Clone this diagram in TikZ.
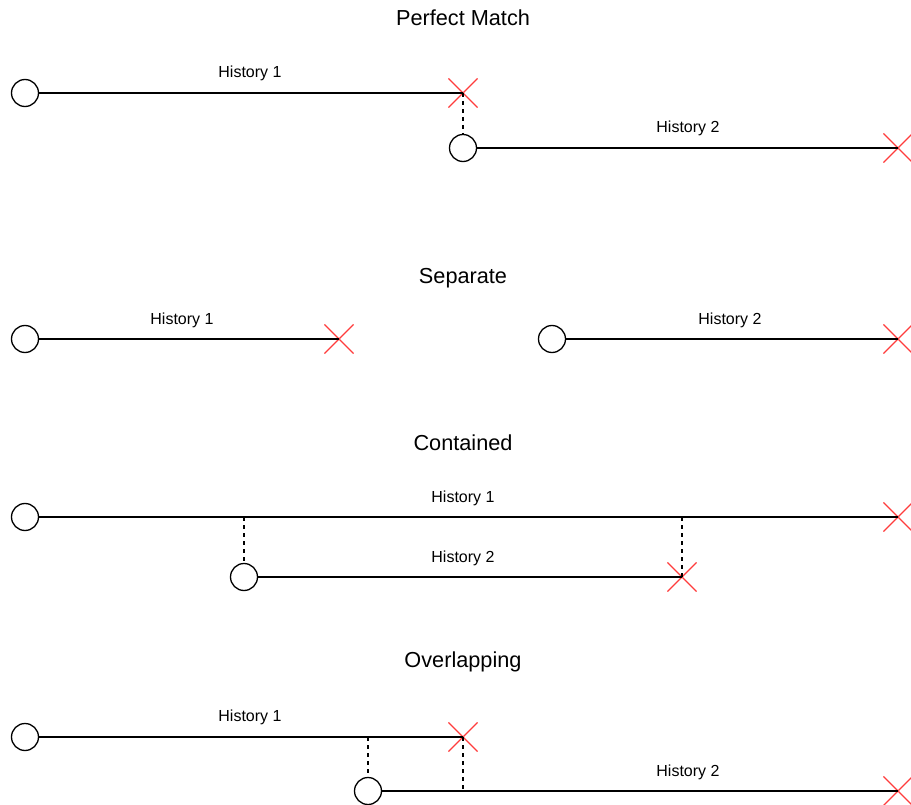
\documentclass[tikz,border=0pt]{standalone}
\usepackage{fontspec}
\setmainfont{Liberation Sans}
\usetikzlibrary{shapes.misc}
\begin{document}
\begin{tikzpicture}[x=1pt,y=-1pt,
  start/.style={circle,draw=black,line width=1.3pt,minimum size=27pt,inner sep=0pt,fill=white},
  stopx/.style={cross out,draw={rgb,255:red,255;green,60;blue,60},line width=1.1pt,minimum size=28pt,inner sep=0pt},
  hline/.style={line width=1.3pt},
  dline/.style={line width=1.2pt,dashed,dash pattern=on 4pt off 4pt},
  lbl/.style={font=\fontsize{16}{18}\selectfont},
  ttl/.style={font=\fontsize{21.7}{24}\selectfont}]
\useasboundingbox (0,0) rectangle (911,805);
% Perfect Match
\node[ttl] (t1) at (463,18) {Perfect Match};
\node[start] (a1) at (25,93) {};
\node[stopx] (a1x) at (463,93) {};
\draw[hline] (a1) -- (a1x.center);
\node[lbl] (a1l) at (250,73) {History 1};
\node[start] (b1) at (463,148) {};
\node[stopx] (b1x) at (898,148) {};
\draw[hline] (b1) -- (b1x.center);
\node[lbl] (b1l) at (688,128) {History 2};
\draw[dline] (a1x.center) -- (b1.north);
% Separate
\node[ttl] (t2) at (463,278) {Separate};
\node[start] (a2) at (25,339) {};
\node[stopx] (a2x) at (339,339) {};
\draw[hline] (a2) -- (a2x.center);
\node[lbl] (a2l) at (182,320) {History 1};
\node[start] (b2) at (552,339) {};
\node[stopx] (b2x) at (898,339) {};
\draw[hline] (b2) -- (b2x.center);
\node[lbl] (b2l) at (730,320) {History 2};
% Contained
\node[ttl] (t3) at (463,443) {Contained};
\node[start] (a3) at (25,517) {};
\node[stopx] (a3x) at (898,517) {};
\draw[hline] (a3) -- (a3x.center);
\node[lbl] (a3l) at (463,498) {History 1};
\node[start] (b3) at (244,577) {};
\node[stopx] (b3x) at (682,577) {};
\draw[hline] (b3) -- (b3x.center);
\node[lbl] (b3l) at (463,558) {History 2};
\coordinate (c3a) at (244,517);
\coordinate (c3b) at (682,517);
\draw[dline] (c3a) -- (b3.north);
\draw[dline] (c3b) -- (b3x.center);
% Overlapping
\node[ttl] (t4) at (463,662) {Overlapping};
\node[start] (a4) at (25,737) {};
\node[stopx] (a4x) at (463,737) {};
\draw[hline] (a4) -- (a4x.center);
\node[lbl] (a4l) at (250,717) {History 1};
\node[start] (b4) at (368,791) {};
\node[stopx] (b4x) at (898,791) {};
\draw[hline] (b4) -- (b4x.center);
\node[lbl] (b4l) at (688,772) {History 2};
\coordinate (c4a) at (368,737);
\coordinate (c4b) at (463,791);
\draw[dline] (c4a) -- (b4.north);
\draw[dline] (a4x.center) -- (c4b);
\end{tikzpicture}
\end{document}
